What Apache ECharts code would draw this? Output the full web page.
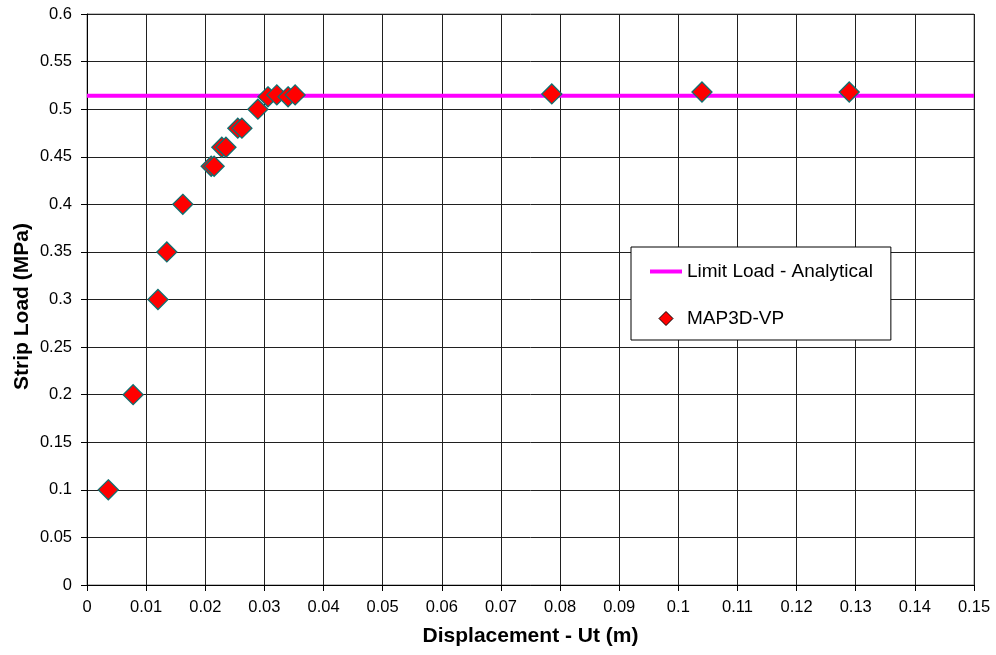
<!DOCTYPE html>
<html><head><meta charset="utf-8">
<script src="https://cdn.jsdelivr.net/npm/echarts@6/dist/echarts.min.js"></script>
<style>html,body{margin:0;padding:0;background:#fff}#c{width:996px;height:655px}</style>
</head><body><div id="c"></div>
<script>
const dispX = [0.0036,0.0078,0.012,0.0135,0.0162,0.021,0.0215,0.0228,0.0235,0.0255,0.0262,0.0289,0.0306,0.0321,0.034,0.0352,0.0786,0.104,0.1289];
const loadY = [0.1,0.2,0.3,0.35,0.4,0.44,0.44,0.46,0.46,0.48,0.48,0.5,0.513,0.515,0.513,0.515,0.516,0.518,0.518];
const limitX = [0,0.15];
const limitY = [0.514,0.514];

const font = 'Liberation Sans, Arial, sans-serif';
const chart = echarts.init(document.getElementById('c'));
const fmt = v => String(+v.toFixed(2));
chart.setOption({
  animation: false,
  grid: {left: 87, right: 22, top: 14, bottom: 70, show: true, borderColor: '#808080', borderWidth: 1,
         outerBoundsMode: 'none', containLabel: false},
  xAxis: {
    type: 'value', min: 0, max: 0.15, interval: 0.01,
    name: 'Displacement - Ut (m)', nameLocation: 'middle', nameGap: 41,
    nameTextStyle: {fontFamily: font, fontWeight: 'bold', fontSize: 21, color: '#000'},
    axisLine: {show: true, onZero: false, lineStyle: {color: '#000'}},
    axisTick: {show: true, length: 6, lineStyle: {color: '#000'}},
    axisLabel: {fontFamily: font, fontSize: 16.5, color: '#000', margin: 14, formatter: fmt},
    splitLine: {show: true, lineStyle: {color: '#202020', width: 1}}
  },
  yAxis: {
    type: 'value', min: 0, max: 0.6, interval: 0.05,
    name: 'Strip Load (MPa)', nameLocation: 'middle', nameGap: 54, nameRotate: 90, nameMoveOverlap: false,
    nameTextStyle: {fontFamily: font, fontWeight: 'bold', fontSize: 21, color: '#000', padding: [0, 14, 0, 0]},
    axisLine: {show: true, onZero: false, lineStyle: {color: '#000'}},
    axisTick: {show: true, length: 6, lineStyle: {color: '#000'}},
    axisLabel: {fontFamily: font, fontSize: 16.5, color: '#000', margin: 15, formatter: fmt},
    splitLine: {show: true, lineStyle: {color: '#202020', width: 1}}
  },
  legend: {
    orient: 'vertical', left: 631, top: 247, width: 265, height: 91,
    padding: [15, 18, 12, 19], itemGap: 28,
    backgroundColor: '#fff', borderColor: '#000', borderWidth: 1,
    itemWidth: 32, itemHeight: 14, symbolKeepAspect: true,
    textStyle: {fontFamily: font, fontSize: 19, color: '#000'},
    data: [
      {name: 'Limit Load - Analytical', icon: 'path://M0,0h32v4h-32z', itemStyle: {color: '#ff00ff', borderWidth: 0}},
      {name: 'MAP3D-VP', icon: 'path://M6,0L12,6L6,12L0,6Z', itemStyle: {color: '#ff0000', borderColor: '#000', borderWidth: 1}}
    ]
  },
  series: [
    {
      name: 'Limit Load - Analytical', type: 'line', symbol: 'none',
      data: limitX.map((x, i) => [x, limitY[i]]),
      lineStyle: {color: '#ff00ff', width: 4}, itemStyle: {color: '#ff00ff'}, z: 2
    },
    {
      name: 'MAP3D-VP', type: 'scatter', symbol: 'diamond', symbolSize: 20,
      data: dispX.map((x, i) => [x, loadY[i]]),
      itemStyle: {color: '#ff0000', borderColor: '#107070', borderWidth: 1.3, opacity: 1}, z: 3
    }
  ]
});
</script></body></html>
